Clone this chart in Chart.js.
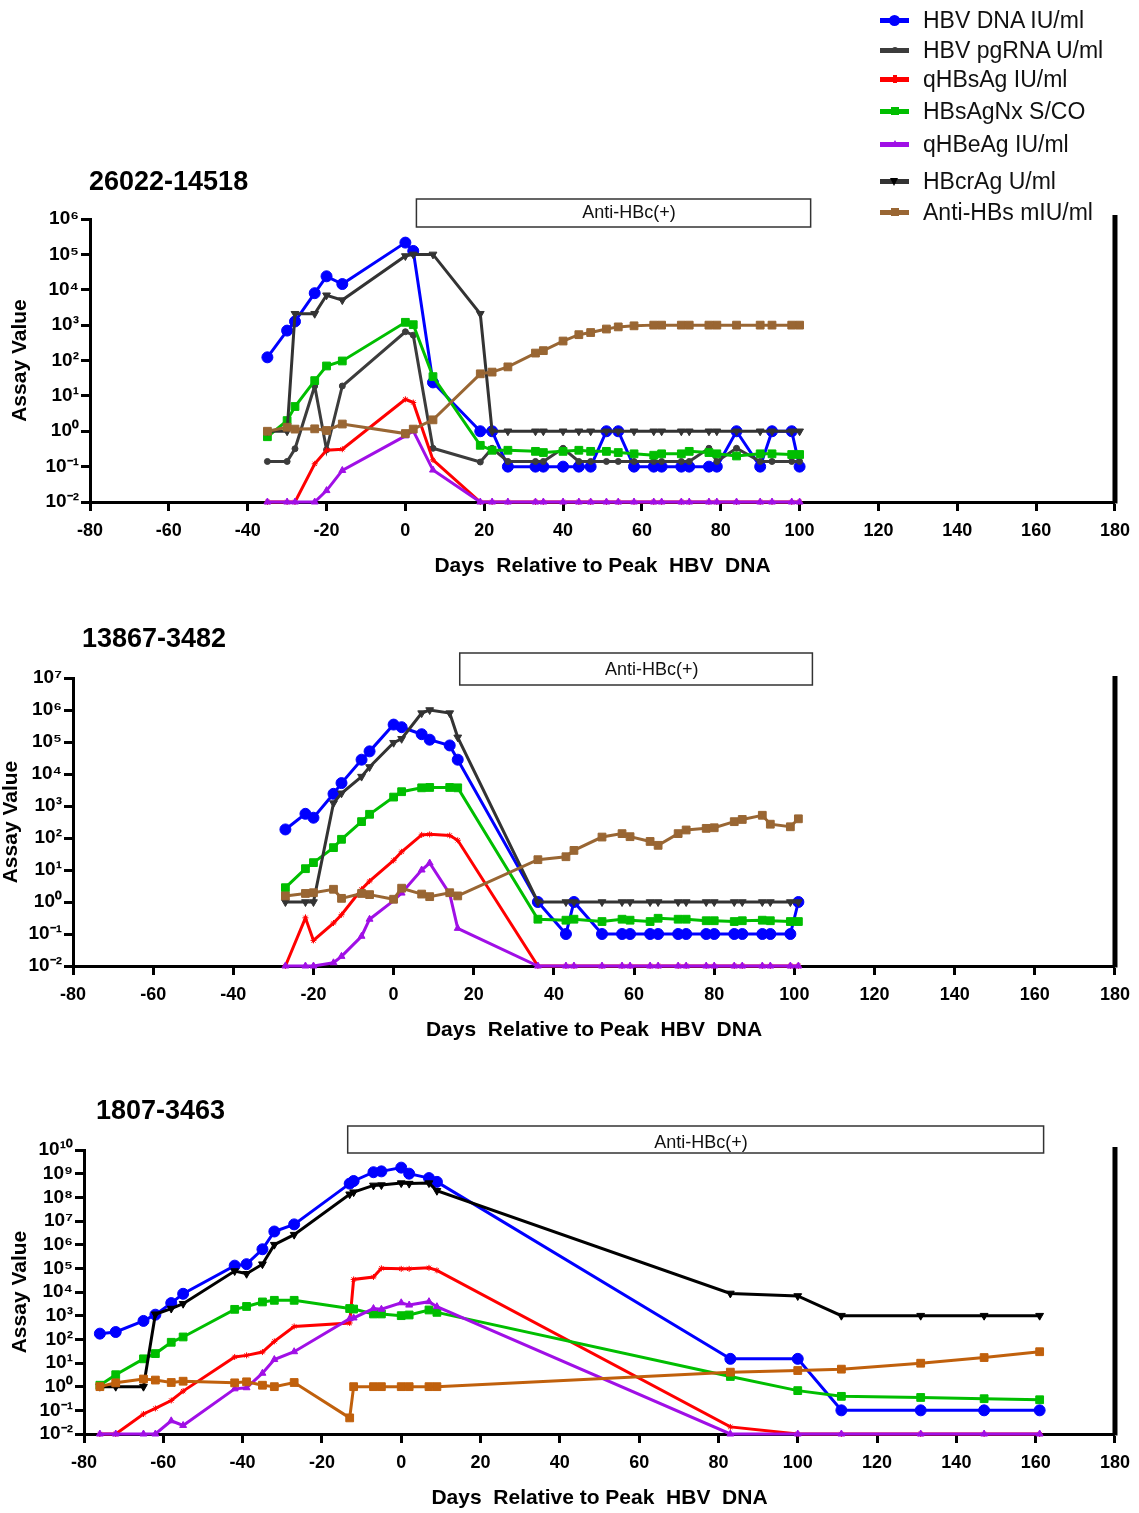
<!DOCTYPE html>
<html><head><meta charset="utf-8">
<script src="https://cdn.jsdelivr.net/npm/chart.js@4.4.1/dist/chart.umd.min.js"></script>
<style>
html,body{margin:0;padding:0;background:#fff;}
body{width:1139px;height:1513px;position:relative;overflow:hidden;font-family:"Liberation Sans",Arial,Helvetica,sans-serif;}
canvas{position:absolute;left:0;}
#legend{position:absolute;left:0;top:0;width:1139px;height:230px;z-index:5;pointer-events:none;}
.lg{position:absolute;left:880px;height:0;width:260px;}
.lg .ln{position:absolute;left:0;width:29px;height:5px;top:-2.5px;}
.lg .mk{position:absolute;}
.lg .tx{position:absolute;left:43px;top:-14px;font-size:23px;line-height:28px;white-space:nowrap;color:#111;}
</style></head><body>
<canvas id="c1" width="1139" height="440" style="top:150px"></canvas>
<canvas id="c2" width="1139" height="460" style="top:600px"></canvas>
<canvas id="c3" width="1139" height="445" style="top:1068px"></canvas>
<div id="legend"></div>
<script>
// ---------------- DATA ----------------
const seriesLabels = ['HBV DNA IU/ml','HBV pgRNA U/ml','qHBsAg IU/ml','HBsAgNx S/CO','qHBeAg IU/ml','HBcrAg U/ml','Anti-HBs mIU/ml'];
const xTickValues = [-80,-60,-40,-20,0,20,40,60,80,100,120,140,160,180];

// Panel 1: 26022-14518
const days1 = [-35,-30,-28,-23,-20,-16,0,2,7,19,22,26,33,35,40,44,47,51,54,58,63,65,70,72,77,79,84,90,93,98,100];
const dna1 = [123,700,1270,8000,24000,14500,215000,125000,24,1,1,0.1,0.1,0.1,0.1,0.1,0.1,1,1,0.1,0.1,0.1,0.1,0.1,0.1,0.1,1,0.1,1,1,0.1];
const pgrna1 = [0.14,0.14,0.32,19,0.3,19,650,520,0.33,0.135,0.33,0.14,0.14,0.14,0.33,0.14,0.14,0.14,0.14,0.14,0.14,0.14,0.14,0.14,0.33,0.14,0.33,0.14,0.14,0.14,0.14];
const hbsag1 = [0.01,0.01,0.01,0.12,0.29,0.31,8,6.5,0.155,0.01,0.01,0.01,0.01,0.01,0.01,0.01,0.01,0.01,0.01,0.01,0.01,0.01,0.01,0.01,0.01,0.01,0.01,0.01,0.01,0.01,0.01];
const nx1 = [0.7,2.0,5,27,70,97,1200,1030,35,0.4,0.29,0.29,0.27,0.25,0.27,0.29,0.27,0.27,0.25,0.23,0.21,0.23,0.23,0.27,0.25,0.23,0.2,0.23,0.23,0.22,0.22];
const heag1 = [0.01,0.01,0.01,0.01,0.021,0.078,0.74,1.02,0.08,0.01,0.01,0.01,0.01,0.01,0.01,0.01,0.01,0.01,0.01,0.01,0.01,0.01,0.01,0.01,0.01,0.01,0.01,0.01,0.01,0.01,0.01];
const crag1 = [1,1,2100,2100,7000,5100,90000,100000,100000,2100,1,1,1,1,1,1,1,1,1,1,1,1,1,1,1,1,1,1,1,1,1];
const antihbs1 = [1.0,1.3,1.15,1.17,1.05,1.6,0.86,1.15,2.1,42,47,66,162,190,355,537,617,776,891,955,1000,1000,1000,1000,1000,1000,1000,1000,1000,1000,1000];

// Panel 2: 13867-3482
const days2 = [-27,-22,-20,-15,-13,-8,-6,0,2,7,9,14,16,36,43,45,52,57,59,64,66,71,73,78,80,85,87,92,94,99,101];
const dna2 = [185,570,430,2400,5200,28000,51000,350000,290000,175000,118000,78000,28000,1,0.1,1,0.1,0.1,0.1,0.1,0.1,0.1,0.1,0.1,0.1,0.1,0.1,0.1,0.1,0.1,1];
const hbsag2 = [0.01,0.32,0.063,0.22,0.4,2.5,4.5,20,37,125,130,120,85,0.01,0.01,0.01,0.01,0.01,0.01,0.01,0.01,0.01,0.01,0.01,0.01,0.01,0.01,0.01,0.01,0.01,0.01];
const nx2 = [2.8,11,17,50,91,325,550,1900,2800,3700,3800,3800,3700,0.29,0.27,0.29,0.245,0.29,0.27,0.245,0.31,0.29,0.29,0.26,0.26,0.245,0.26,0.27,0.26,0.245,0.245];
const heag2 = [0.01,0.01,0.01,0.0126,0.02,0.085,0.29,1.1,1.9,10,16.5,1.8,0.15,0.01,0.01,0.01,0.01,0.01,0.01,0.01,0.01,0.01,0.01,0.01,0.01,0.01,0.01,0.01,0.01,0.01,0.01];
const crag2 = [1,1,1,1230,2500,8300,16600,95000,126000,800000,1000000,800000,140000,1,1,1,1,1,1,1,1,1,1,1,1,1,1,1,1,1,1];
const antihbs2 = [1.55,1.85,1.95,2.5,1.3,1.85,1.7,1.22,2.7,1.77,1.47,1.95,1.55,21,26,41,107,137,110,78,59,137,178,200,209,324,380,513,270,224,398];

// Panel 3: 1807-3463
const days3 = [-76,-72,-65,-62,-58,-55,-42,-39,-35,-32,-27,-13,-12,-7,-5,0,2,7,9,83,100,111,131,147,161];
const dna3 = [174,204,600,1100,3400,8400,130000,150000,640000,3.6e6,7.2e6,3.8e8,4.9e8,1.15e9,1.25e9,1.8e9,1.0e9,6.5e8,4.5e8,15,15,0.1,0.1,0.1,0.1];
const hbsag3 = [0.01,0.01,0.07,0.12,0.26,0.65,18,21,29,82,350,490,34000,43000,100000,95000,95000,105000,82000,0.02,0.01,0.01,0.01,0.01,0.01];
const nx3 = [1.15,3.2,15,25,75,126,1850,2450,3800,4450,4450,2000,1900,1180,1180,1000,1070,1740,1380,2.7,0.68,0.39,0.35,0.31,0.28];
const heag3 = [0.01,0.01,0.01,0.01,0.036,0.023,0.81,0.9,3.7,14,30,740,800,2000,1870,3500,2800,3900,2400,0.01,0.01,0.01,0.01,0.01,0.01];
const crag3 = [1,1,1,1150,2000,3200,77000,59000,150000,1e6,2.65e6,1.35e8,1.65e8,3.2e8,3.3e8,4e8,3.8e8,4e8,1.9e8,8700,6800,1000,1000,1000,1000];
const antihbs3 = [1.0,1.45,2.1,1.9,1.5,1.7,1.45,1.6,1.15,1.0,1.5,0.048,1.0,1.0,1.0,1.0,1.0,1.0,1.0,4.1,4.8,5.5,9.8,17,30];

const panelTitles = ['26022-14518','13867-3482','1807-3463'];
const yExp1 = [-2,-1,0,1,2,3,4,5,6];
const yExp2 = [-2,-1,0,1,2,3,4,5,6,7];
const yExp3 = [-2,-1,0,1,2,3,4,5,6,7,8,9,10];

// ---------------- STYLES ----------------
const FONT = '"Liberation Sans", Arial, Helvetica, sans-serif';
Chart.defaults.font.family = FONT;
const ST = {
  dna:    {color:'#0000FF', pointStyle:'circle',   radius:5.5},
  pgrna:  {color:'#3C3C3C', pointStyle:'circle',   radius:3},
  hbsag:  {color:'#FF0000', pointStyle:'star',     radius:3},
  nx:     {color:'#00BE00', pointStyle:'rect',     radius:5.5},
  heag:   {color:'#A00FE6', pointStyle:'triangle', radius:4},
  crag:   {color:'#333333', pointStyle:'triangle', radius:4.5, rotation:180},
  anti:   {color:'#996633', pointStyle:'rect',     radius:5.5}
};

const SUP = {'0':'⁰','1':'¹','2':'²','3':'³','4':'⁴','5':'⁵','6':'⁶','7':'⁷','8':'⁸','9':'⁹','-':'⁻'};
function sup(n){ return String(n).split('').map(c=>SUP[c]).join(''); }

const decor = {
  id:'decor',
  afterDraw(chart, args, o){
    const {ctx, chartArea:a} = chart; const x = chart.scales.x;
    ctx.save();
    ctx.font = 'bold 27px ' + FONT; ctx.fillStyle = '#000';
    ctx.textBaseline = 'middle'; ctx.textAlign = 'left';
    ctx.fillText(o.title, o.titleX, o.titleY);
    const x1 = x.getPixelForValue(o.boxFrom), x2 = x.getPixelForValue(o.boxTo);
    const y1 = a.top + o.boxTop, y2 = a.top + o.boxBottom;
    ctx.lineWidth = 1.5; ctx.strokeStyle = '#333';
    ctx.strokeRect(x1, y1, x2 - x1, y2 - y1);
    ctx.font = '18px ' + FONT; ctx.textAlign = 'center'; ctx.fillStyle = '#111';
    ctx.fillText(o.boxLabel, x.getPixelForValue(o.labelAt), a.top + o.labelDy);
    const xr = x.getPixelForValue(x.max);
    ctx.fillStyle = '#000';
    ctx.fillRect(xr - 2.5, a.top - o.rightExt, 5, a.bottom - a.top + o.rightExt + 1.5);
    ctx.restore();
  }
};

function makeChart(id, L, days, series, yExp, deco){
  const datasets = series.map((s, i) => ({
    label: s.label,
    data: days.map((d, j) => ({x: d, y: s.values[j]})),
    borderColor: s.st.color, backgroundColor: s.st.color,
    pointBackgroundColor: s.st.color, pointBorderColor: s.st.color,
    borderWidth: 3, pointStyle: s.st.pointStyle, pointRadius: s.st.radius,
    pointRotation: s.st.rotation || 0, pointBorderWidth: 1, pointHoverRadius: s.st.radius,
    tension: 0, clip: false, order: -i, fill: false
  }));
  const xAxisH = L.xTitleY + 12.6 - L.plotBottom;
  const padBottom = L.canvasTop + L.canvasH - (L.xTitleY + 12.6);
  return new Chart(document.getElementById(id), {
    type: 'line',
    data: { datasets },
    options: {
      responsive: false, animation: false, devicePixelRatio: 1,
      layout: { padding: { top: L.plotTop - L.canvasTop, bottom: padBottom, left: 0, right: 1139 - L.plotRight } },
      plugins: { legend: { display: false }, tooltip: { enabled: false }, decor: deco },
      scales: {
        x: {
          type: 'linear', min: -80, max: 180,
          afterBuildTicks: s => { s.ticks = xTickValues.map(v => ({value: v})); },
          ticks: { callback: v => String(v), font: { size: 18, weight: 'bold' }, color: '#000', padding: 9, maxRotation: 0, autoSkip: false },
          grid: { display: true, drawOnChartArea: false, drawTicks: true, tickLength: 9, tickWidth: 3, tickColor: '#000' },
          border: { display: true, width: 3, color: '#000' },
          title: { display: true, text: 'Days  Relative to Peak  HBV  DNA', font: { size: 21, weight: 'bold' }, color: '#000', padding: { top: 0, bottom: 0 } },
          afterFit: s => { s.height = xAxisH; }
        },
        y: {
          type: 'logarithmic', min: Math.pow(10, yExp[0]), max: Math.pow(10, yExp[yExp.length - 1]),
          afterBuildTicks: s => { s.ticks = yExp.map(e => ({value: Math.pow(10, e)})); },
          ticks: { callback: v => '10' + sup(Math.round(Math.log10(v))), font: { size: 19, weight: 'bold' }, color: '#000', padding: 2, autoSkip: false },
          grid: { display: true, drawOnChartArea: false, drawTicks: true, tickLength: 9, tickWidth: 3, tickColor: '#000' },
          border: { display: true, width: 3, color: '#000' },
          title: { display: true, text: 'Assay Value', font: { size: 21, weight: 'bold' }, color: '#000', padding: { top: L.yTitleX - 12.6, bottom: 0 } },
          afterFit: s => { s.width = L.plotLeft; }
        }
      }
    },
    plugins: [decor]
  });
}

makeChart('c1',
  {canvasTop:150, canvasH:440, plotLeft:90, plotRight:1117, plotTop:219, plotBottom:502, xTitleY:566, yTitleX:20},
  days1,
  [ {label:seriesLabels[0], values:dna1, st:ST.dna},
    {label:seriesLabels[1], values:pgrna1, st:ST.pgrna},
    {label:seriesLabels[2], values:hbsag1, st:ST.hbsag},
    {label:seriesLabels[3], values:nx1, st:ST.nx},
    {label:seriesLabels[4], values:heag1, st:ST.heag},
    {label:seriesLabels[5], values:crag1, st:ST.crag},
    {label:seriesLabels[6], values:antihbs1, st:ST.anti} ],
  yExp1,
  {title:panelTitles[0], titleX:89, titleY:33, boxFrom:2.8, boxTo:102.8, boxTop:-20, boxBottom:8, boxLabel:'Anti-HBc(+)', labelAt:56.7, labelDy:-6, rightExt:4});

makeChart('c2',
  {canvasTop:600, canvasH:460, plotLeft:73, plotRight:1115, plotTop:678, plotBottom:966, xTitleY:1030, yTitleX:11},
  days2,
  [ {label:seriesLabels[0], values:dna2, st:ST.dna},
    {label:seriesLabels[2], values:hbsag2, st:ST.hbsag},
    {label:seriesLabels[3], values:nx2, st:ST.nx},
    {label:seriesLabels[4], values:heag2, st:ST.heag},
    {label:seriesLabels[5], values:crag2, st:ST.crag},
    {label:seriesLabels[6], values:antihbs2, st:ST.anti} ],
  yExp2,
  {title:panelTitles[1], titleX:82, titleY:40, boxFrom:16.5, boxTo:104.5, boxTop:-25, boxBottom:7, boxLabel:'Anti-HBc(+)', labelAt:64.4, labelDy:-8, rightExt:2});

makeChart('c3',
  {canvasTop:1068, canvasH:445, plotLeft:84, plotRight:1116, plotTop:1150, plotBottom:1434, xTitleY:1498, yTitleX:20},
  days3,
  [ {label:seriesLabels[0], values:dna3, st:ST.dna},
    {label:seriesLabels[2], values:hbsag3, st:ST.hbsag},
    {label:seriesLabels[3], values:nx3, st:ST.nx},
    {label:seriesLabels[4], values:heag3, st:ST.heag},
    {label:seriesLabels[5], values:crag3, st:Object.assign({}, ST.crag, {color:'#000000'})},
    {label:seriesLabels[6], values:antihbs3, st:Object.assign({}, ST.anti, {color:'#C0600C'})} ],
  yExp3,
  {title:panelTitles[2], titleX:96, titleY:44, boxFrom:-13.5, boxTo:162, boxTop:-24, boxBottom:3, boxLabel:'Anti-HBc(+)', labelAt:75.6, labelDy:-7, rightExt:3});

// ---------------- LEGEND (HTML) ----------------
const legendY = [20, 50, 79, 111, 144, 181, 212];
const legendKeys = ['dna','pgrna','hbsag','nx','heag','crag','anti'];
const lg = document.getElementById('legend');
legendKeys.forEach((k, i) => {
  const st = ST[k];
  const row = document.createElement('div'); row.className = 'lg'; row.style.top = legendY[i] + 'px';
  const ln = document.createElement('div'); ln.className = 'ln'; ln.style.background = st.color; row.appendChild(ln);
  const mk = document.createElement('div'); mk.className = 'mk';
  if (st.pointStyle === 'circle') {
    const d = st.radius * 2; mk.style.cssText = `left:${14.5-d/2}px;top:${-d/2}px;width:${d}px;height:${d}px;border-radius:50%;background:${st.color};`;
  } else if (st.pointStyle === 'rect') {
    mk.style.cssText = `left:10.5px;top:-4px;width:8px;height:8px;background:${st.color};`;
  } else if (st.pointStyle === 'triangle' && st.rotation) {
    mk.style.cssText = `left:10px;top:-3px;width:0;height:0;border-left:4.5px solid transparent;border-right:4.5px solid transparent;border-top:8px solid #000;`;
  } else if (st.pointStyle === 'triangle') {
    mk.style.cssText = `left:10.5px;top:-4.5px;width:0;height:0;border-left:4px solid transparent;border-right:4px solid transparent;border-bottom:7px solid ${st.color};`;
  } else {
    mk.style.cssText = `left:12.5px;top:-4px;width:4px;height:8px;background:${st.color};`;
  }
  row.appendChild(mk);
  const tx = document.createElement('div'); tx.className = 'tx'; tx.textContent = seriesLabels[i]; row.appendChild(tx);
  lg.appendChild(row);
});
</script>
</body></html>
